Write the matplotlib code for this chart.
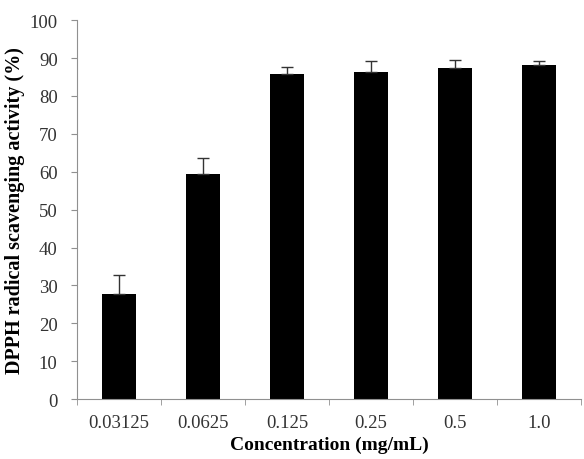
import matplotlib

matplotlib.use("Agg")
import matplotlib.pyplot as plt
import numpy as np

concentrations = ["0.03125", "0.0625", "0.125", "0.25", "0.5", "1.0"]
activity = [27.7, 59.5, 85.7, 86.2, 87.4, 88.1]
error_up = [5.0, 4.1, 1.9, 3.0, 2.1, 1.0]

plt.rcParams["font.family"] = ["Liberation Serif", "DejaVu Serif"]

fig = plt.figure(figsize=(5.84, 4.6), dpi=100)
ax = fig.add_axes([0.132, 0.13, 0.863, 0.824])

x = np.arange(len(concentrations))
ax.bar(x, activity, width=0.41, color="black", zorder=2)
ax.errorbar(x, activity, yerr=[np.zeros(len(x)), error_up], fmt="none",
            ecolor="#333333", elinewidth=1.0, capsize=4, capthick=1.0, zorder=3)

ax.set_xlim(-0.5, len(x) - 0.5)
ax.set_ylim(0, 100)
ax.set_yticks(range(0, 101, 10))
ax.set_xticks(x)
ax.set_xticklabels(concentrations)
ax.set_xticks(np.arange(-0.5, len(x), 1.0), minor=True)

axis_color = "#909090"
for side in ("top", "right"):
    ax.spines[side].set_visible(False)
for side in ("left", "bottom"):
    ax.spines[side].set_color(axis_color)
ax.tick_params(axis="y", direction="out", length=4, color=axis_color, pad=10,
               labelsize=13.5, labelcolor="#333333")
ax.tick_params(axis="x", which="major", length=0, pad=11,
               labelsize=13.5, labelcolor="#333333")
ax.tick_params(axis="x", which="minor", direction="out", length=4, color=axis_color)

ax.set_xlabel("Concentration (mg/mL)", fontsize=14, fontweight="bold", labelpad=3)
ax.set_ylabel("DPPH radical scavenging activity (%)", fontsize=14.5,
              fontweight="bold", labelpad=3)

fig.savefig("out.png", dpi=100)
